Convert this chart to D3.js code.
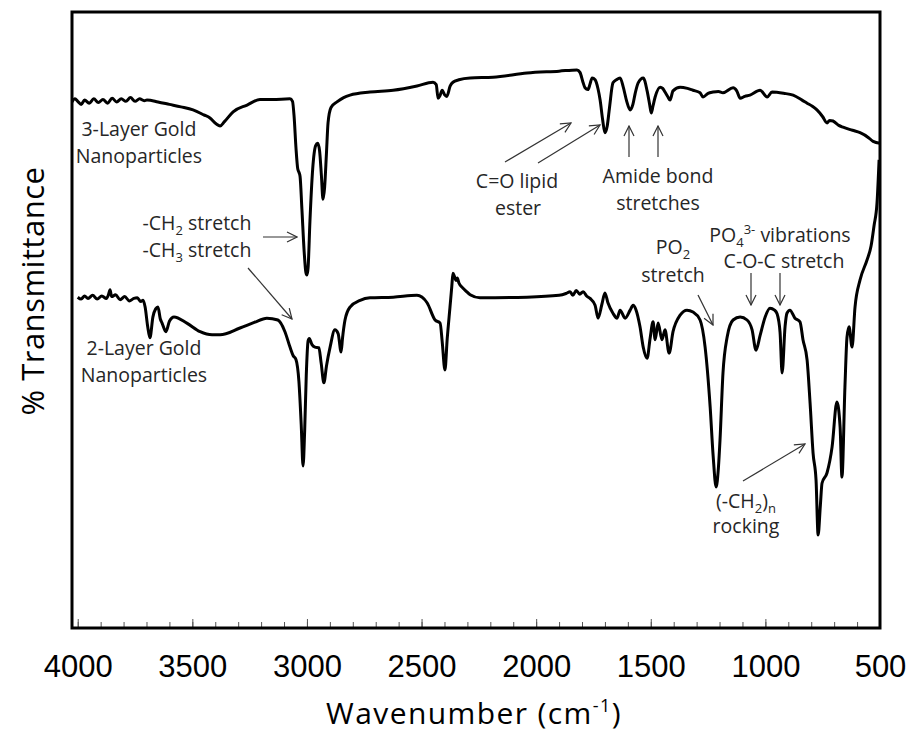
<!DOCTYPE html>
<html>
<head>
<meta charset="utf-8">
<script src="https://cdn.jsdelivr.net/npm/d3@7/dist/d3.min.js"></script>
<style>
  html, body { margin: 0; padding: 0; background: #fff; }
  svg { display: block; }
</style>
</head>
<body>
<svg id="chart" width="911" height="733"></svg>
<script>
// ---- Data (wavenumber cm^-1, % transmittance in arbitrary offset units) ----
const layer3 = [[4025,85.4],[4012,85.9],[4000,85.5],[3985,85.0],[3970,85.7],[3950,85.2],[3930,85.9],[3910,85.3],[3890,85.8],[3870,85.2],[3850,86.0],[3830,85.4],[3810,85.9],[3790,85.5],[3770,86.1],[3750,85.5],[3730,85.9],[3710,85.6],[3698,85.7],[3650,85.4],[3600,85.0],[3550,84.6],[3497,84.1],[3450,83.3],[3423,82.8],[3395,81.8],[3379,81.5],[3360,82.2],[3322,83.8],[3261,84.9],[3205,85.8],[3150,85.8],[3074,85.9],[3063,85.5],[3056,83],[3048,78],[3040,74.5],[3034,73.9],[3030,73.3],[3022,68],[3012,61],[3005,57.8],[3000,57.3],[2995,58.5],[2987,66],[2975,74.5],[2962,78.3],[2953,78.7],[2945,77.5],[2937,73.5],[2930,69.6],[2923,71.5],[2915,77],[2908,82],[2895,84.5],[2869,85.4],[2840,86.1],[2812,86.5],[2725,87.0],[2624,87.3],[2520,88.0],[2450,88.6],[2436,88.2],[2428,86.0],[2420,86.4],[2410,87.3],[2400,86.6],[2390,86.3],[2375,88.0],[2363,88.6],[2337,89.0],[2288,89.3],[2188,89.4],[2040,90.1],[1900,90.4],[1822,90.6],[1809,90.2],[1795,88.5],[1787,87.7],[1774,87.4],[1765,88.3],[1756,89.3],[1743,89.0],[1730,87.5],[1721,85.7],[1710,82.5],[1700,80.4],[1690,81.5],[1680,84.5],[1665,88.5],[1650,89.0],[1634,89.3],[1620,87.8],[1605,85.5],[1590,84.1],[1578,85.0],[1568,86.8],[1555,88.5],[1533,89.3],[1516,87.2],[1505,85],[1498,83.6],[1490,84.8],[1481,86.2],[1459,87.8],[1448,87.6],[1438,87.0],[1425,86.2],[1416,85.7],[1403,87.2],[1372,87.8],[1340,87.6],[1316,87.3],[1285,86.9],[1272,86.2],[1250,86.8],[1228,87.0],[1205,87.1],[1185,86.9],[1141,87.7],[1125,87.2],[1110,86.0],[1090,86.3],[1067,86.5],[1023,87.3],[992,86.2],[971,87.0],[920,86.8],[879,86.5],[840,85.7],[818,85.2],[795,84.7],[775,84.1],[750,83.0],[731,82.0],[720,82.4],[705,82.3],[680,81.6],[661,81.3],[620,80.8],[587,80.4],[550,79.6],[530,79.0],[500,78.7]];

const layer2 = [[4000,53.7],[3985,53.4],[3970,53.9],[3955,53.5],[3935,54.0],[3915,53.4],[3895,53.9],[3875,53.5],[3865,54.2],[3859,54.9],[3852,53.8],[3835,54.1],[3815,53.3],[3795,53.8],[3775,53.1],[3755,53.5],[3740,53.6],[3725,53.0],[3715,53.2],[3706,52.1],[3695,49],[3685,47.1],[3672,50.5],[3660,51.8],[3650,52.1],[3640,50.2],[3632,49.5],[3615,48.1],[3600,49.8],[3580,50.5],[3524,49.5],[3466,48.1],[3414,47.6],[3379,47.6],[3292,48.7],[3230,49.6],[3175,50.3],[3127,50.0],[3096,48.1],[3074,45.6],[3060,44.2],[3048,43.6],[3035,40],[3025,33],[3017,26.3],[3010,32],[3003,41],[2995,46.6],[2990,47.0],[2978,46],[2965,45.6],[2948,45.5],[2938,43],[2926,39.8],[2915,42.5],[2899,45.6],[2878,48.4],[2864,47.8],[2851,44.8],[2845,47],[2834,50.0],[2812,52.1],[2768,53.2],[2725,53.6],[2624,53.7],[2520,54.0],[2476,52.8],[2441,50.0],[2419,49.5],[2410,46.5],[2398,41.9],[2388,47],[2376,52.1],[2368,55.5],[2363,57.6],[2356,57.0],[2350,56.4],[2344,56.8],[2337,56.0],[2320,55.2],[2306,54.7],[2288,54.1],[2245,53.6],[2040,53.7],[1900,54.0],[1870,54.3],[1852,54.6],[1840,54.0],[1825,54.8],[1810,54.2],[1795,54.6],[1780,53.9],[1765,53.5],[1743,52.4],[1730,50.3],[1713,52.6],[1700,54.4],[1687,52.8],[1665,51.1],[1647,50.3],[1634,51.6],[1612,50.3],[1590,51.6],[1577,52.4],[1564,51.6],[1547,48.9],[1533,45.6],[1516,43.8],[1503,47.0],[1490,49.7],[1481,46.8],[1468,49.5],[1451,46.8],[1438,48.4],[1420,44.6],[1403,48.1],[1372,50.8],[1342,51.6],[1316,51.3],[1285,50.0],[1263,45.6],[1241,35.9],[1228,28],[1215,22.9],[1205,26],[1198,30.5],[1185,41.4],[1167,47.2],[1141,50.0],[1110,50.5],[1080,50.0],[1058,48.4],[1041,45.1],[1023,47.5],[1001,50.5],[980,51.9],[960,51.6],[949,51.0],[936,48],[927,41.4],[914,49],[906,51.1],[893,51.6],[871,50.3],[849,49.7],[836,46.8],[818,43.5],[805,36.5],[792,28.4],[779,24.0],[770,15.1],[760,20],[753,23.5],[731,25.2],[709,29.4],[688,36.7],[674,32.6],[666,24.5],[653,39.1],[644,47.2],[635,48.9],[622,45.6],[609,52.1],[587,56.5],[557,59.7],[539,62.0],[526,65.3],[513,69],[504,76]];

const majorTicks = [4000, 3500, 3000, 2500, 2000, 1500, 1000, 500];
const minorTicks = d3.range(4000, 499, -100);

// series labels anchored in data coordinates
const seriesLabels = [
  { w: 3733, t: 79.9, lines: ["3-Layer Gold", "Nanoparticles"] },
  { w: 3711, t: 44.3, lines: ["2-Layer Gold", "Nanoparticles"] }
];
const xTitle = "Wavenumber (cm";
const yTitle = "% Transmittance";

// ---- Layout ----
const svg = d3.select("#chart");
const L = 72, R = 880, T = 12, B = 628;
const x = d3.scaleLinear().domain([4025, 500]).range([L, R]);
const y = d3.scaleLinear().domain([0, 100]).range([B, T]);

const line = d3.line()
  .x(d => x(d[0]))
  .y(d => y(d[1]))
  .curve(d3.curveMonotoneX);

// minor ticks
svg.append("g")
  .attr("transform", `translate(0,${B})`)
  .call(d3.axisBottom(x).tickValues(minorTicks).tickSize(-6).tickFormat(""))
  .call(g => g.select(".domain").remove())
  .call(g => g.selectAll("line").attr("stroke", "#555").attr("stroke-width", 1));

// major ticks + labels
const ax = svg.append("g")
  .attr("transform", `translate(0,${B})`)
  .call(d3.axisBottom(x).tickValues(majorTicks).tickSize(-9).tickFormat(d3.format("d")))
  .call(g => g.select(".domain").remove());
ax.selectAll("line").attr("stroke", "#555").attr("stroke-width", 1);
ax.selectAll("text")
  .attr("y", 49).attr("dy", 0)
  .attr("fill", "#000")
  .style("font-family", "'Liberation Sans', Arial, sans-serif")
  .style("font-size", "31px");

// curves
svg.append("path").datum(layer3)
  .attr("d", line).attr("fill", "none").attr("stroke", "#000")
  .attr("stroke-width", 3).attr("stroke-linejoin", "round");
svg.append("path").datum(layer2)
  .attr("d", line).attr("fill", "none").attr("stroke", "#000")
  .attr("stroke-width", 3).attr("stroke-linejoin", "round");

// frame
svg.append("rect")
  .attr("x", L).attr("y", T).attr("width", R - L).attr("height", B - T)
  .attr("fill", "none").attr("stroke", "#000").attr("stroke-width", 3);

// axis titles
const titleFont = "'Open Sans', 'Noto Sans', sans-serif";
const xt = svg.append("text")
  .attr("x", 474).attr("y", 724).attr("text-anchor", "middle")
  .style("font-family", titleFont).style("font-size", "30px")
  .style("letter-spacing", "1.4px").attr("fill", "#000");
xt.append("tspan").text(xTitle);
xt.append("tspan").text("-1").style("font-size", "18px").attr("dy", -12);
xt.append("tspan").text(")").attr("dy", 12);

svg.append("text")
  .attr("transform", "translate(44,291) rotate(-90)")
  .attr("text-anchor", "middle")
  .style("font-family", titleFont).style("font-size", "31px")
  .style("letter-spacing", "0.5px").attr("fill", "#000")
  .text(yTitle);

// annotations
const annFont = "19.5px";
const annColor = "#262626";
function label(cx, baseY, parts) {
  const t = svg.append("text")
    .attr("x", cx).attr("y", baseY).attr("text-anchor", "middle")
    .style("font-family", titleFont).style("font-size", annFont).attr("fill", annColor);
  let shift = 0;
  parts.forEach(([s, k]) => {
    const ts = t.append("tspan").text(s);
    const target = k === "sub" ? 5 : k === "sup" ? -8 : 0;
    if (target !== shift) { ts.attr("dy", target - shift); shift = target; }
    if (k !== "n") ts.style("font-size", "13px");
  });
  return t;
}
seriesLabels.forEach(s => {
  label(x(s.w), y(s.t), [[s.lines[0], "n"]]);
  label(x(s.w), y(s.t) + 27, [[s.lines[1], "n"]]);
});
label(197, 230, [["-CH", "n"], ["2", "sub"], [" stretch", "n"]]);
label(197, 257, [["-CH", "n"], ["3", "sub"], [" stretch", "n"]]);
label(517, 188, [["C=O lipid", "n"]]);
label(518, 215, [["ester", "n"]]);
label(658, 183, [["Amide bond", "n"]]);
label(658, 210, [["stretches", "n"]]);
label(673, 254, [["PO", "n"], ["2", "sub"]]);
label(673, 282, [["stretch", "n"]]);
label(780, 242, [["PO", "n"], ["4", "sub"], ["3-", "sup"], [" vibrations", "n"]]);
label(784, 268, [["C-O-C stretch", "n"]]);
label(746, 508, [["(-CH", "n"], ["2", "sub"], [")", "n"], ["n", "sub"]]);
label(746, 533, [["rocking", "n"]]);

// arrows
const defs = svg.append("defs");
defs.append("marker")
  .attr("id", "ah").attr("viewBox", "0 0 12 12")
  .attr("refX", 11).attr("refY", 6)
  .attr("markerWidth", 12).attr("markerHeight", 12)
  .attr("markerUnits", "userSpaceOnUse")
  .attr("orient", "auto")
  .append("path").attr("d", "M1,1 L11,6 L1,11")
  .attr("fill", "none").attr("stroke", "#333").attr("stroke-width", 1.2);

const arrows = [
  [263, 237, 297, 237],
  [248, 268, 292, 319],
  [505, 162, 571, 123],
  [538, 163, 600, 125],
  [629, 157, 629, 126],
  [658, 157, 658, 126],
  [698, 295, 713, 325],
  [751, 273, 751, 305],
  [780, 273, 780, 305],
  [743, 481, 805, 444]
];
svg.append("g").selectAll("line").data(arrows).join("line")
  .attr("x1", d => d[0]).attr("y1", d => d[1])
  .attr("x2", d => d[2]).attr("y2", d => d[3])
  .attr("stroke", "#333").attr("stroke-width", 1.2)
  .attr("marker-end", "url(#ah)");
</script>
</body>
</html>
